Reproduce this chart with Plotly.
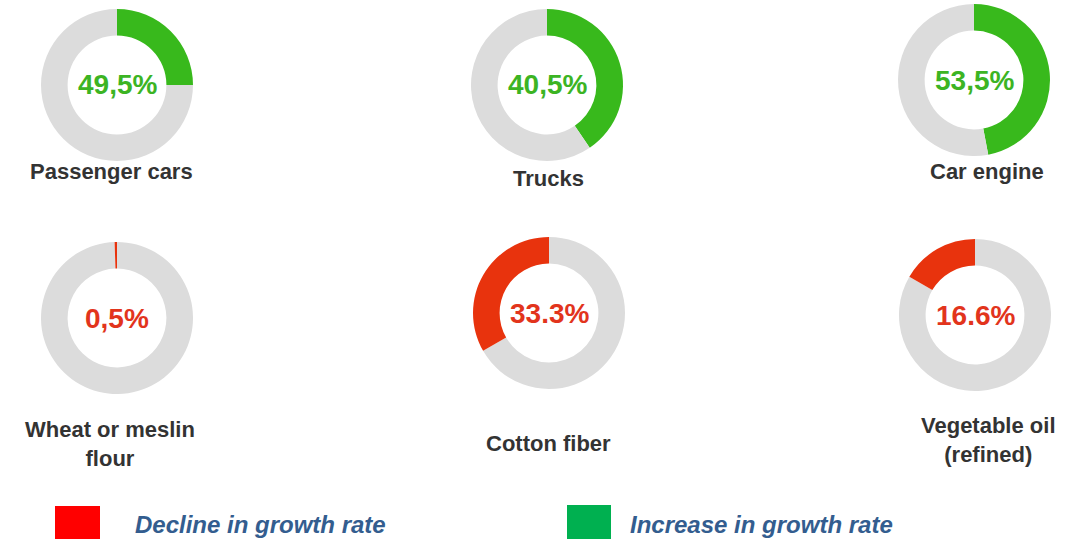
import plotly.graph_objects as go

W, H = 1079, 539

categories = ["Passenger cars", "Trucks", "Car engine",
              "Wheat or meslin<br>flour", "Cotton fiber", "Vegetable oil<br>(refined)"]
label_texts = ["49,5%", "40,5%", "53,5%", "0,5%", "33.3%", "16.6%"]
arc_values = [25.0, 40.5, 47.0, 0.5, 33.3, 16.6]  # arc share as drawn
trend = ["up", "up", "up", "down", "down", "down"]
legend_labels = ["Decline in growth rate", "Increase in growth rate"]

# layout (pixel positions)
centers = [(117, 85), (547, 85), (974, 80), (117, 318), (549, 313), (975, 315)]
name_pos = [(111, 171), (548, 178), (987, 171), (110, 444), (548, 443), (988, 440)]
DIAM = 152

GREEN_ARC = "#38b91c"
RED_ARC = "#e8330d"
GREEN_TXT = "#3cb423"
RED_TXT = "#e2341c"
GRAY = "#dcdcdc"
FONT = "Liberation Sans, Arial, sans-serif"

fig = go.Figure()
annotations = []
for i, (cat, val) in enumerate(zip(categories, arc_values)):
    cx, cy = centers[i]
    up = trend[i] == "up"
    x0 = (cx - DIAM / 2) / W
    x1 = (cx + DIAM / 2) / W
    y0 = 1 - (cy + DIAM / 2) / H
    y1 = 1 - (cy - DIAM / 2) / H
    if up:
        vals = [val, 100 - val]
        labs = [cat, "rest"]
        cols = [GREEN_ARC, GRAY]
    else:
        # grey first clockwise, so the red arc sits counter-clockwise from 12 o'clock
        vals = [100 - val, val]
        labs = ["rest", cat]
        cols = [GRAY, RED_ARC]
    fig.add_trace(go.Pie(
        values=vals,
        labels=labs,
        hole=0.65,
        sort=False,
        direction="clockwise",
        rotation=0,
        marker=dict(colors=cols, line=dict(width=0)),
        textinfo="none",
        hoverinfo="label+value",
        showlegend=False,
        domain=dict(x=[x0, x1], y=[y0, y1]),
    ))
    annotations.append(dict(
        x=cx / W, y=1 - cy / H, xref="paper", yref="paper",
        text="<b>%s</b>" % label_texts[i], showarrow=False,
        font=dict(family=FONT, size=28, color=GREEN_TXT if up else RED_TXT),
        xanchor="center", yanchor="middle",
    ))
    nx, ny = name_pos[i]
    annotations.append(dict(
        x=nx / W, y=1 - ny / H, xref="paper", yref="paper",
        text="<b>%s</b>" % cat, showarrow=False,
        font=dict(family=FONT, size=22, color="#333333"),
        xanchor="center", yanchor="middle", align="center",
    ))

# legend
legend_items = [((55, 506, 100, 540), "#ff0000", 133, legend_labels[0]),
                ((567, 505, 611, 540), "#00b050", 628, legend_labels[1])]
shapes = []
for (lx0, ly0, lx1, ly1), col, tx, txt in legend_items:
    shapes.append(dict(type="rect", xref="paper", yref="paper",
                       x0=lx0 / W, x1=lx1 / W, y0=1 - ly1 / H, y1=1 - ly0 / H,
                       fillcolor=col, line=dict(width=0)))
    annotations.append(dict(
        x=tx / W, y=1 - 524 / H, xref="paper", yref="paper",
        text="<b><i>%s</i></b>" % txt, showarrow=False,
        font=dict(family=FONT, size=24, color="#335d8f"),
        xanchor="left", yanchor="middle",
    ))

fig.update_layout(
    width=W, height=H,
    margin=dict(l=0, r=0, t=0, b=0),
    paper_bgcolor="white", plot_bgcolor="white",
    annotations=annotations, shapes=shapes,
)
fig.write_html(
    "out.html",
    config={"displayModeBar": False},
    post_script="document.body.style.margin='0';document.body.style.overflow='hidden';",
)
